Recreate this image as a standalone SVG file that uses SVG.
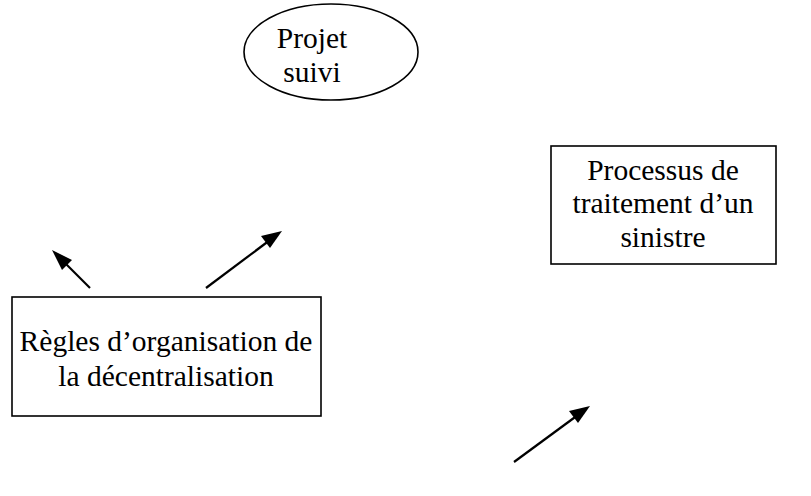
<svg xmlns="http://www.w3.org/2000/svg" width="811" height="496" viewBox="0 0 811 496">
<style>
.s{fill:#fff;stroke:#000;stroke-width:1.6}
.t{font-family:"Liberation Serif","Times New Roman",serif;font-size:29.5px;fill:#000;text-anchor:middle}
.c{stroke:#000;stroke-width:2.2;fill:none}
</style>
<rect width="811" height="496" fill="#fff"/>
<g id="projet">
<ellipse class="s" cx="331" cy="52" rx="87" ry="48"/>
<text class="t" x="312" y="48">Projet</text>
<text class="t" x="312" y="82">suivi</text>
</g>
<g id="processus">
<rect class="s" x="551" y="146" width="225" height="118"/>
<text class="t" x="663" y="180">Processus de</text>
<text class="t" x="663" y="213">traitement d’un</text>
<text class="t" x="663" y="247">sinistre</text>
</g>
<g id="regles">
<rect class="s" x="12" y="297" width="309" height="119"/>
<text class="t" x="166" y="351">Règles d’organisation de</text>
<text class="t" x="166" y="386">la décentralisation</text>
</g>
<g id="connectors">
<path class="c" d="M90,288 L60,258"/>
<path d="M52,250 L72,260 L62,270 z" fill="#000"/>
<path class="c" d="M206,288 L274,237"/>
<path d="M282,231 L270,248 L261,236 z" fill="#000"/>
<path class="c" d="M514,462 L582,412"/>
<path d="M590,406 L578,423 L569,411 z" fill="#000"/>
</g>
</svg>
